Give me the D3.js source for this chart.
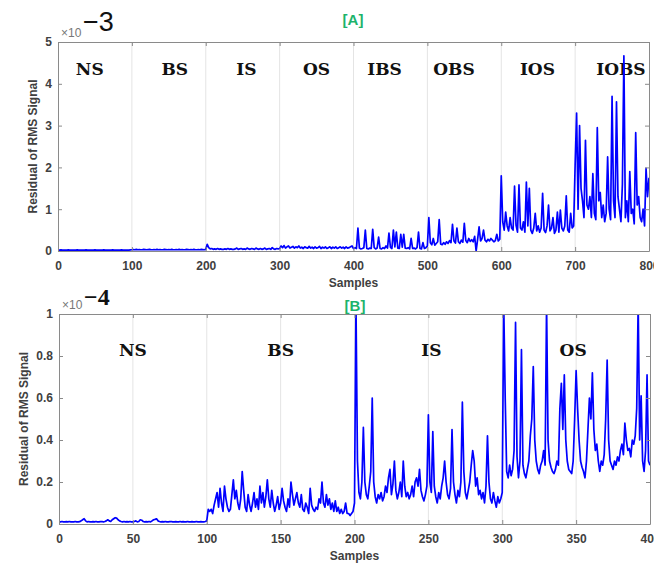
<!DOCTYPE html>
<html>
<head>
<meta charset="utf-8">
<script src="https://cdn.jsdelivr.net/npm/d3@7"></script>
<style>
  body { margin: 0; background: #fff; }
  text { font-family: "Liberation Sans", Arial, sans-serif; }
</style>
</head>
<body>
<svg width="654" height="563"></svg>
<script>
// ---- panel A data (x10^-3), one value every 2 samples ----
var topNS = [0.02,0.02,0.025,0.02,0.02,0.022,0.02,0.025,0.02,0.02,
  0.022,0.02,0.02,0.025,0.02,0.02,0.022,0.02,0.02,0.025,
  0.02,0.02,0.022,0.02,0.02,0.025,0.02,0.02,0.022,0.02,
  0.02,0.025,0.02,0.02,0.022,0.02,0.02,0.025,0.02,0.02,
  0.022,0.02,0.02,0.025,0.02,0.02,0.022,0.02,0.02,0.025];
var topBS = [0.03,0.035,0.03,0.04,0.03,0.035,0.03,0.03,0.04,0.035,
  0.03,0.035,0.04,0.03,0.03,0.035,0.03,0.04,0.03,0.035,
  0.03,0.03,0.04,0.035,0.03,0.035,0.03,0.04,0.03,0.03,
  0.035,0.03,0.04,0.03,0.035,0.03,0.03,0.04,0.035,0.03,
  0.035,0.03,0.04,0.03,0.03,0.035,0.03,0.04,0.035,0.03];
var topIS = [0.04,0.16,0.08,0.05,0.06,0.04,0.05,0.04,0.06,0.04,
  0.05,0.04,0.04,0.05,0.04,0.06,0.04,0.05,0.04,0.04,
  0.05,0.07,0.04,0.05,0.06,0.04,0.05,0.04,0.07,0.05,
  0.04,0.06,0.05,0.04,0.07,0.05,0.04,0.06,0.04,0.05,
  0.07,0.04,0.05,0.06,0.04,0.08,0.05,0.04,0.06,0.05];
var topOS = [0.06,0.12,0.08,0.13,0.07,0.1,0.12,0.07,0.09,0.11,
  0.07,0.1,0.08,0.12,0.07,0.09,0.06,0.1,0.08,0.07,
  0.11,0.07,0.09,0.06,0.1,0.07,0.08,0.11,0.06,0.09,
  0.07,0.1,0.06,0.08,0.1,0.06,0.09,0.07,0.1,0.06,
  0.08,0.1,0.07,0.09,0.06,0.1,0.07,0.08,0.1,0.12];
var topIBS = [0.06,0.08,0.06,0.55,0.07,0.05,0.06,0.08,0.5,0.06,
  0.05,0.07,0.06,0.52,0.08,0.05,0.07,0.33,0.06,0.05,
  0.08,0.06,0.12,0.07,0.43,0.09,0.06,0.5,0.1,0.45,
  0.07,0.06,0.4,0.09,0.4,0.07,0.06,0.08,0.05,0.3,
  0.06,0.07,0.05,0.08,0.45,0.06,0.05,0.2,0.06,0.08];
var topOBS = [0.12,0.8,0.2,0.15,0.3,0.14,0.18,0.22,0.75,0.17,
  0.15,0.2,0.16,0.22,0.18,0.25,0.2,0.64,0.24,0.19,
  0.55,0.22,0.18,0.26,0.21,0.66,0.25,0.2,0.3,0.23,
  0.27,0.22,0.35,0.0,0.28,0.58,0.24,0.3,0.5,0.26,
  0.22,0.28,0.24,0.3,0.26,0.22,0.25,0.4,0.24,0.28];
var topIOS = [1.8,0.7,0.5,0.93,0.6,0.48,0.8,0.55,0.5,1.55,
  0.62,0.45,1.58,0.55,0.5,0.7,0.45,1.65,0.6,1.5,
  0.5,0.42,0.55,0.9,0.48,0.6,0.45,0.55,1.38,0.5,
  0.44,0.6,1.1,0.48,0.55,0.8,0.42,0.5,0.93,0.45,
  0.98,0.55,0.48,0.6,1.32,0.5,0.45,0.9,0.55,0.6];
var topIOBS = [2.05,3.3,1.0,3.0,1.5,1.2,0.8,2.65,1.1,1.0,
  1.3,0.8,1.85,0.9,0.75,2.95,1.2,1.4,0.8,1.1,
  0.7,0.9,2.25,1.0,0.75,3.7,1.2,0.8,3.57,1.3,
  1.0,0.7,1.6,4.67,0.8,1.2,0.7,1.9,0.9,1.0,
  0.65,2.83,1.1,1.3,0.8,0.7,1.0,0.6,1.98,1.3,1.75];

// ---- panel B data (x10^-4), one value per sample ----
var botNS = [0.01,0.01,0.012,0.01,0.01,0.011,0.01,0.012,0.01,0.01,
  0.01,0.012,0.01,0.01,0.011,0.015,0.02,0.025,0.015,0.01,
  0.012,0.01,0.01,0.011,0.01,0.012,0.01,0.01,0.011,0.012,
  0.01,0.012,0.015,0.02,0.015,0.012,0.02,0.025,0.03,0.028,
  0.02,0.015,0.012,0.01,0.012,0.01,0.011,0.01,0.012,0.01,
  0.01,0.012,0.015,0.01,0.012,0.02,0.018,0.012,0.01,0.011,
  0.01,0.012,0.01,0.015,0.02,0.022,0.025,0.015,0.012,0.01,
  0.011,0.01,0.012,0.01,0.01,0.011,0.012,0.01,0.01,0.011,
  0.01,0.01,0.012,0.01,0.011,0.01,0.01,0.012,0.01,0.01,
  0.011,0.01,0.01,0.012,0.01,0.01,0.011,0.01,0.01,0.012];
var botBS = [0.015,0.07,0.06,0.07,0.05,0.09,0.12,0.15,0.08,0.17,
  0.1,0.06,0.18,0.12,0.08,0.06,0.07,0.14,0.21,0.12,
  0.16,0.1,0.07,0.12,0.25,0.16,0.08,0.06,0.14,0.09,
  0.06,0.1,0.15,0.08,0.12,0.07,0.18,0.1,0.15,0.08,
  0.13,0.21,0.12,0.08,0.16,0.1,0.06,0.09,0.13,0.07,
  0.1,0.17,0.11,0.08,0.06,0.12,0.08,0.2,0.14,0.09,
  0.12,0.15,0.1,0.08,0.14,0.07,0.06,0.1,0.08,0.05,
  0.17,0.09,0.07,0.06,0.08,0.07,0.12,0.1,0.2,0.1,
  0.08,0.14,0.09,0.12,0.07,0.1,0.06,0.11,0.06,0.08,
  0.05,0.07,0.05,0.06,0.1,0.05,0.05,0.04,0.05,0.06];
var botIS = [0.1,1.05,0.3,0.15,0.12,0.2,0.46,0.2,0.14,0.12,
  0.18,0.25,0.6,0.2,0.13,0.1,0.14,0.12,0.15,0.11,
  0.13,0.18,0.15,0.22,0.26,0.14,0.19,0.3,0.16,0.12,
  0.15,0.2,0.13,0.3,0.18,0.13,0.15,0.12,0.14,0.18,
  0.13,0.2,0.22,0.18,0.26,0.16,0.13,0.11,0.14,0.18,
  0.52,0.2,0.15,0.44,0.18,0.13,0.1,0.15,0.12,0.18,
  0.22,0.3,0.2,0.14,0.12,0.17,0.45,0.2,0.14,0.1,
  0.16,0.13,0.2,0.58,0.25,0.15,0.12,0.16,0.2,0.28,
  0.35,0.3,0.18,0.22,0.14,0.16,0.12,0.15,0.1,0.18,
  0.42,0.2,0.12,0.1,0.15,0.11,0.08,0.13,0.1,0.12];
var botOS = [0.15,1.05,0.6,0.25,0.22,0.28,0.23,0.26,0.35,0.96,
  0.32,0.22,0.3,0.83,0.28,0.24,0.22,0.26,0.3,0.42,
  0.5,0.75,0.4,0.3,0.26,0.24,0.28,0.3,0.35,0.28,
  1.05,0.4,0.3,0.27,0.25,0.24,0.26,0.3,0.28,0.55,
  0.67,0.45,0.71,0.4,0.3,0.26,0.25,0.24,0.3,0.5,
  0.73,0.55,0.4,0.3,0.27,0.25,0.22,0.3,0.45,0.6,
  0.5,0.72,0.45,0.35,0.38,0.3,0.25,0.3,0.28,0.33,
  0.5,0.78,0.4,0.3,0.28,0.26,0.3,0.28,0.32,0.3,
  0.35,0.38,0.33,0.48,0.4,0.35,0.36,0.32,0.4,0.38,
  0.42,0.55,1.05,0.4,0.61,0.3,0.25,0.35,0.71,0.3,0.28];

var topRegions = ['NS','BS','IS','OS','IBS','OBS','IOS','IOBS'];
var topRegionAt = [43,158,255,350,442,536,649,762];
var botRegions = ['NS','BS','IS','OS'];
var botRegionAt = [50,150,252,348];

var topXTicks = [0,100,200,300,400,500,600,700,800];
var topYTicks = [0,1,2,3,4,5];
var botXTicks = [0,50,100,150,200,250,300,350,400];
var botYTicks = [0,0.2,0.4,0.6,0.8,1];

var svg = d3.select('svg');
var axisGray = '#8a8a8a';
var labelGray = '#404040';

function buildSeries(segs, segLen, step) {
  var pts = [];
  segs.forEach(function(seg, k) {
    seg.forEach(function(v, i) { pts.push([k * segLen + i * step, v]); });
  });
  return pts;
}

function drawPanel(cfg) {
  var x = d3.scaleLinear().domain([0, cfg.xTicks[cfg.xTicks.length - 1]]).range([cfg.left, cfg.right]);
  var y = d3.scaleLinear().domain([0, cfg.yTicks[cfg.yTicks.length - 1]]).range([cfg.bottom, cfg.top]);
  var g = svg.append('g');

  // vertical grid
  g.selectAll('.grid')
    .data(cfg.xTicks.slice(1, -1))
    .enter().append('line')
    .attr('x1', function(d) { return x(d); })
    .attr('x2', function(d) { return x(d); })
    .attr('y1', cfg.top)
    .attr('y2', cfg.bottom)
    .attr('stroke', '#e4e4e4')
    .attr('stroke-width', 1);

  // region labels
  g.selectAll('.region')
    .data(cfg.regions)
    .enter().append('text')
    .attr('x', function(d, i) { return x(cfg.regionAt[i]); })
    .attr('y', cfg.regionY)
    .attr('text-anchor', 'middle')
    .style('font-family', '"DejaVu Serif", serif')
    .style('font-weight', 'bold')
    .style('font-size', '17px')
    .attr('fill', '#111')
    .text(function(d) { return d; });

  // signal
  var clipId = 'clip-' + cfg.name;
  svg.append('clipPath').attr('id', clipId)
    .append('rect')
    .attr('x', cfg.left).attr('y', cfg.top)
    .attr('width', cfg.right - cfg.left).attr('height', cfg.bottom - cfg.top);

  var line = d3.line()
    .x(function(d) { return x(d[0]); })
    .y(function(d) { return y(d[1]); });

  g.append('path')
    .datum(cfg.series)
    .attr('clip-path', 'url(#' + clipId + ')')
    .attr('d', line)
    .attr('fill', 'none')
    .attr('stroke', '#0000ff')
    .attr('stroke-width', 1.7)
    .attr('stroke-linejoin', 'round');

  // axes (MATLAB style box with inward ticks)
  var bottomAxis = d3.axisBottom(x).tickValues(cfg.xTicks).tickSizeInner(-4).tickSizeOuter(0).tickPadding(10)
    .tickFormat(d3.format('d'));
  var topAxis = d3.axisTop(x).tickValues(cfg.xTicks).tickSizeInner(-4).tickSizeOuter(0).tickFormat('');
  var leftAxis = d3.axisLeft(y).tickValues(cfg.yTicks).tickSizeInner(-4).tickSizeOuter(0).tickPadding(6)
    .tickFormat(cfg.yFormat);
  var rightAxis = d3.axisRight(y).tickValues(cfg.yTicks).tickSizeInner(-4).tickSizeOuter(0).tickFormat('');

  var axes = [
    [bottomAxis, 'translate(0,' + cfg.bottom + ')'],
    [topAxis, 'translate(0,' + cfg.top + ')'],
    [leftAxis, 'translate(' + cfg.left + ',0)'],
    [rightAxis, 'translate(' + cfg.right + ',0)']
  ];
  axes.forEach(function(a) {
    var ag = g.append('g').attr('transform', a[1]).call(a[0]);
    ag.select('.domain').attr('stroke', axisGray);
    ag.selectAll('.tick line').attr('stroke', axisGray);
    ag.selectAll('.tick text')
      .attr('fill', labelGray)
      .style('font-family', '"Liberation Sans", Arial, sans-serif')
      .style('font-weight', 'bold')
      .style('font-size', '12px');
  });

  // axis titles
  g.append('text')
    .attr('x', (cfg.left + cfg.right) / 2)
    .attr('y', cfg.xTitleY)
    .attr('text-anchor', 'middle')
    .attr('fill', labelGray)
    .style('font-weight', 'bold')
    .style('font-size', '12px')
    .text('Samples');

  g.append('text')
    .attr('transform', 'translate(' + cfg.yTitleX + ',' + (cfg.top + cfg.bottom) / 2 + ') rotate(-90)')
    .attr('text-anchor', 'middle')
    .attr('fill', labelGray)
    .style('font-weight', 'bold')
    .style('font-size', '12px')
    .text('Residual of RMS Signal');

  // panel tag
  g.append('text')
    .attr('x', cfg.tagX)
    .attr('y', cfg.tagY)
    .attr('text-anchor', 'middle')
    .attr('fill', '#1db36b')
    .style('font-weight', 'bold')
    .style('font-size', '15px')
    .text(cfg.tag);

  // exponent
  g.append('text')
    .attr('x', cfg.left + 3)
    .attr('y', cfg.top - 5)
    .attr('fill', '#777')
    .style('font-size', '12px')
    .text('\u00d710');
  g.append('text')
    .attr('x', cfg.left + 25)
    .attr('y', cfg.expY)
    .attr('fill', '#111')
    .style('font-family', cfg.expFont)
    .style('font-weight', cfg.expWeight)
    .style('font-size', cfg.expSize)
    .text(cfg.exp);
}

drawPanel({
  name: 'a',
  series: buildSeries([topNS, topBS, topIS, topOS, topIBS, topOBS, topIOS, topIOBS], 100, 2),
  xTicks: topXTicks, yTicks: topYTicks, yFormat: d3.format('d'),
  regions: topRegions, regionAt: topRegionAt, regionY: 75,
  left: 58, right: 649, top: 42, bottom: 251,
  xTitleY: 287, yTitleX: 37,
  tag: '[A]', tagX: 353, tagY: 25,
  exp: '\u22123', expY: 31, expFont: '"Liberation Sans", Arial, sans-serif', expWeight: 'normal', expSize: '27px'
});

drawPanel({
  name: 'b',
  series: buildSeries([botNS, botBS, botIS, botOS], 100, 1),
  xTicks: botXTicks, yTicks: botYTicks, yFormat: function(d) { return d === 0 || d === 1 ? d3.format('d')(d) : d3.format('.1f')(d); },
  regions: botRegions, regionAt: botRegionAt, regionY: 356,
  left: 59, right: 650, top: 314, bottom: 524,
  xTitleY: 560, yTitleX: 28,
  tag: '[B]', tagX: 355, tagY: 311,
  exp: '\u22124', expY: 305, expFont: '"Liberation Serif", serif', expWeight: 'bold', expSize: '24px'
});
</script>
</body>
</html>
